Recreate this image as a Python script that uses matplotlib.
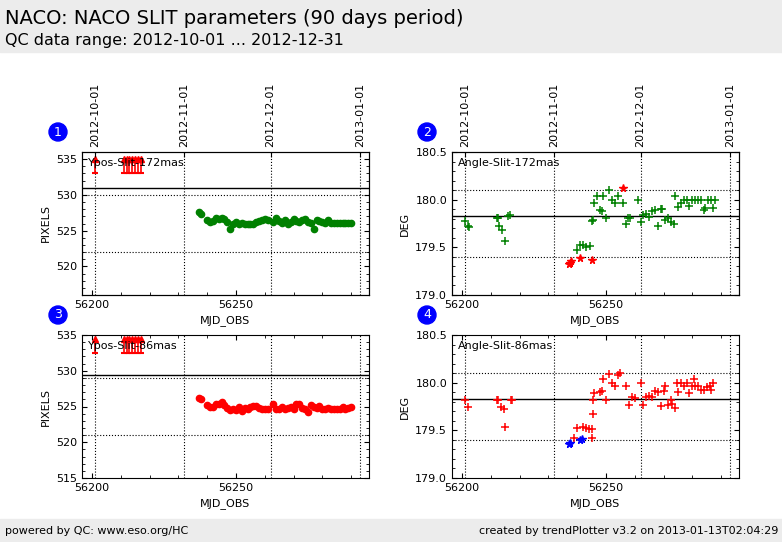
import matplotlib
matplotlib.use('Agg')
import matplotlib.pyplot as plt
from matplotlib.ticker import AutoMinorLocator, FormatStrFormatter
from datetime import datetime

# --- data ---
x1 = [56237, 56238, 56240, 56241, 56242, 56243, 56244, 56245, 56246, 56247, 56248, 56249, 56250,
      56251, 56252, 56253, 56254, 56255, 56256, 56257, 56258, 56259, 56260, 56261, 56263, 56264,
      56265, 56266, 56267, 56268, 56269, 56270, 56271, 56272, 56273, 56274, 56275, 56276, 56277,
      56278, 56279, 56280, 56281, 56282, 56283, 56284, 56285, 56286, 56287, 56288, 56289, 56290]
y1 = [527.6, 527.3, 526.5, 526.2, 526.4, 526.8, 526.6, 526.8, 526.6, 526.2, 525.3, 526.0, 526.2,
      525.9, 526.1, 525.9, 526.0, 525.9, 526.0, 526.2, 526.4, 526.5, 526.6, 526.5, 526.2, 526.8,
      526.3, 526.1, 526.5, 526.0, 526.2, 526.6, 526.3, 526.2, 526.5, 526.6, 526.2, 526.1, 525.3,
      526.5, 526.4, 526.2, 526.1, 526.5, 526.1, 526.1, 526.1, 526.1, 526.1, 526.1, 526.1, 526.1]
y3 = [526.2, 526.0, 525.2, 525.0, 524.9, 525.4, 525.3, 525.6, 525.2, 524.8, 524.5, 524.7, 524.5,
      524.9, 524.4, 524.8, 524.6, 524.9, 525.1, 525.1, 524.8, 524.6, 524.7, 524.6, 525.3, 524.7,
      524.6, 524.9, 524.6, 524.8, 525.0, 524.6, 525.3, 525.3, 524.8, 524.7, 524.2, 525.2, 525.0,
      524.8, 525.1, 524.7, 524.7, 524.8, 524.7, 524.6, 524.7, 524.6, 524.9, 524.7, 524.8, 525.0]
x_out = [56201, 56211, 56212, 56213, 56214, 56215, 56216, 56217]

x2 = [56201, 56202, 56202.5, 56212, 56212.5, 56213, 56214, 56215, 56216, 56216.5, 56240, 56241,
      56242, 56243, 56244.5, 56245, 56245.5, 56246, 56247, 56248, 56248.5, 56249, 56250, 56251,
      56252, 56253, 56254, 56256, 56257, 56257.5, 56258.5, 56261, 56262, 56263, 56264, 56265,
      56266, 56267, 56268, 56269, 56269.5, 56270.5, 56271.5, 56272.5, 56273.5, 56274, 56275,
      56276, 56277, 56278, 56279, 56280, 56281, 56282, 56283, 56284, 56284.5, 56285.5, 56286.5,
      56287, 56288]
y2 = [179.78, 179.72, 179.71, 179.81, 179.81, 179.72, 179.68, 179.57, 179.83, 179.84, 179.47,
      179.52, 179.52, 179.50, 179.51, 179.78, 179.79, 179.97, 180.04, 179.89, 179.88, 180.04,
      179.81, 180.10, 180.0, 179.97, 180.04, 179.97, 179.75, 179.81, 179.81, 180.0, 179.77,
      179.84, 179.85, 179.82, 179.88, 179.89, 179.72, 179.90, 179.90, 179.79, 179.81, 179.77,
      179.74, 180.04, 179.92, 179.97, 180.0, 180.0, 179.93, 180.0, 180.0, 180.0, 180.0, 179.89,
      179.91, 180.0, 180.0, 179.91, 180.0]
x2_bad = [56237, 56237.5, 56238, 56241, 56245, 56256]
y2_bad = [179.33, 179.34, 179.36, 179.39, 179.37, 180.12]

x4 = [56201, 56202, 56212, 56212.5, 56213.5, 56214.5, 56215, 56217, 56217.5, 56239, 56240, 56242,
      56243, 56244, 56245, 56245, 56245.5, 56245.5, 56246, 56248, 56248.5, 56249, 56250, 56251,
      56252, 56253, 56254, 56255, 56257, 56258, 56259, 56260, 56262, 56263, 56264, 56265, 56266,
      56267, 56268, 56269, 56270, 56270.5, 56271.5, 56272.5, 56273, 56274, 56274.5, 56275, 56276,
      56277, 56278, 56279, 56280, 56280.5, 56281, 56282, 56283, 56284, 56285, 56286, 56286.5, 56287]
y4 = [179.82, 179.75, 179.82, 179.82, 179.74, 179.72, 179.53, 179.82, 179.82, 179.42, 179.52, 179.53,
      179.52, 179.51, 179.51, 179.42, 179.67, 179.82, 179.89, 179.90, 179.91, 180.04, 179.82, 180.09,
      180.0, 179.96, 180.08, 180.10, 179.96, 179.77, 179.85, 179.84, 180.0, 179.77, 179.85, 179.86,
      179.85, 179.91, 179.90, 179.76, 179.91, 179.96, 179.77, 179.82, 179.78, 179.73, 180.0, 179.90,
      180.0, 179.96, 180.0, 179.89, 179.96, 180.04, 179.96, 179.96, 179.92, 179.92, 179.95, 179.96,
      179.92, 180.0]
x4_bad = [56237, 56237.5, 56241, 56241.5]
y4_bad = [179.36, 179.37, 179.40, 179.41]

date_ticks = ['2012-10-01', '2012-11-01', '2012-12-01', '2013-01-01']
XLIM = (56196.5, 56296.2)
MJD0 = datetime(1858, 11, 17)


def mjd(s):
    return (datetime.strptime(s, '%Y-%m-%d') - MJD0).days


def setup(ax, label, ylim, ref, lims, ylabel, top, yticks=None):
    ax.set_xlim(*XLIM)
    ax.set_ylim(*ylim)
    if yticks is not None:
        ax.set_yticks(yticks)
        ax.yaxis.set_major_formatter(FormatStrFormatter('%.1f'))
    ax.axhline(ref, color='black', lw=1)
    for v in lims:
        ax.axhline(v, color='black', lw=0.8, ls=':')
    for d in date_ticks:
        ax.axvline(mjd(d), color='black', lw=0.8, ls=':')
    ax.set_xticks([56200, 56250])
    ax.xaxis.set_minor_locator(AutoMinorLocator(5))
    ax.yaxis.set_minor_locator(AutoMinorLocator(5))
    ax.tick_params(labelsize=8, direction='in', which='both', top=not top, right=True)
    ax.set_xlabel('MJD_OBS', fontsize=8)
    ax.set_ylabel(ylabel, fontsize=8)
    ax.text(0.02, 0.96, label, transform=ax.transAxes, fontsize=8, va='top')
    if top:
        tw = ax.twiny()
        tw.set_xlim(*XLIM)
        tw.set_xticks([mjd(d) for d in date_ticks])
        tw.set_xticklabels(date_ticks, rotation=90, fontsize=8)
        tw.tick_params(direction='in')


def outliers(ax, xs, lo, hi):
    ax.vlines(xs, lo, hi, color='red', lw=1.2)
    ax.plot(xs, [hi] * len(xs), '^', color='red', ms=4)
    ax.plot(xs, [lo] * len(xs), '_', color='red', ms=5, mew=1.5)


fig = plt.figure(figsize=(7.82, 5.42), dpi=100)
fig.patches.append(plt.Rectangle((0, 1 - 52 / 542), 1, 52 / 542, transform=fig.transFigure,
                                 color='#ececec', zorder=-1))
fig.patches.append(plt.Rectangle((0, 0), 1, 23 / 542, transform=fig.transFigure,
                                 color='#ececec', zorder=-1))
fig.text(0.006, 0.965, 'NACO: NACO SLIT parameters (90 days period)', fontsize=14, va='center')
fig.text(0.006, 0.926, 'QC data range: 2012-10-01 ... 2012-12-31', fontsize=11.5, va='center')
fig.text(0.006, 0.02, 'powered by QC: www.eso.org/HC', fontsize=8, va='center')
fig.text(0.995, 0.02, 'created by trendPlotter v3.2 on 2013-01-13T02:04:29', fontsize=8,
         va='center', ha='right')

W, H = 287 / 782, 143 / 542
ax1 = fig.add_axes([82 / 782, 1 - 295 / 542, W, H])
ax2 = fig.add_axes([452 / 782, 1 - 295 / 542, W, H])
ax3 = fig.add_axes([82 / 782, 1 - 478 / 542, W, H])
ax4 = fig.add_axes([452 / 782, 1 - 478 / 542, W, H])

ang_ticks = [179.0, 179.5, 180.0, 180.5]

setup(ax1, 'Ypos-Slit-172mas', (516, 536), 530.9, [530, 522], 'PIXELS', True)
ax1.plot(x1, y1, 'o', color='green', ms=4.5, mec='green')
outliers(ax1, x_out, 533, 535)

setup(ax2, 'Angle-Slit-172mas', (179.0, 180.5), 179.83, [180.1, 179.4], 'DEG', True, ang_ticks)
ax2.plot(x2, y2, '+', color='green', ms=5.5, mew=1.1)
ax2.plot(x2_bad, y2_bad, '*', color='red', ms=5.5)

setup(ax3, 'Ypos-Slit-86mas', (515, 535), 529.4, [529, 521], 'PIXELS', False)
ax3.plot(x1, y3, 'o', color='red', ms=4.5, mec='red')
outliers(ax3, x_out, 532.5, 534.5)

setup(ax4, 'Angle-Slit-86mas', (179.0, 180.5), 179.83, [180.1, 179.4], 'DEG', False, ang_ticks)
ax4.plot(x4, y4, '+', color='red', ms=5.5, mew=1.1)
ax4.plot(x4_bad, y4_bad, '*', color='blue', ms=5.5)

for n, (px, py) in enumerate([(58, 132), (427, 132), (58, 315), (427, 315)], 1):
    fig.text(px / 782, 1 - py / 542, str(n), color='white', fontsize=9, ha='center', va='center',
             bbox=dict(boxstyle='circle,pad=0.2', fc='blue', ec='blue'))

fig.savefig('out.png', dpi=100)
